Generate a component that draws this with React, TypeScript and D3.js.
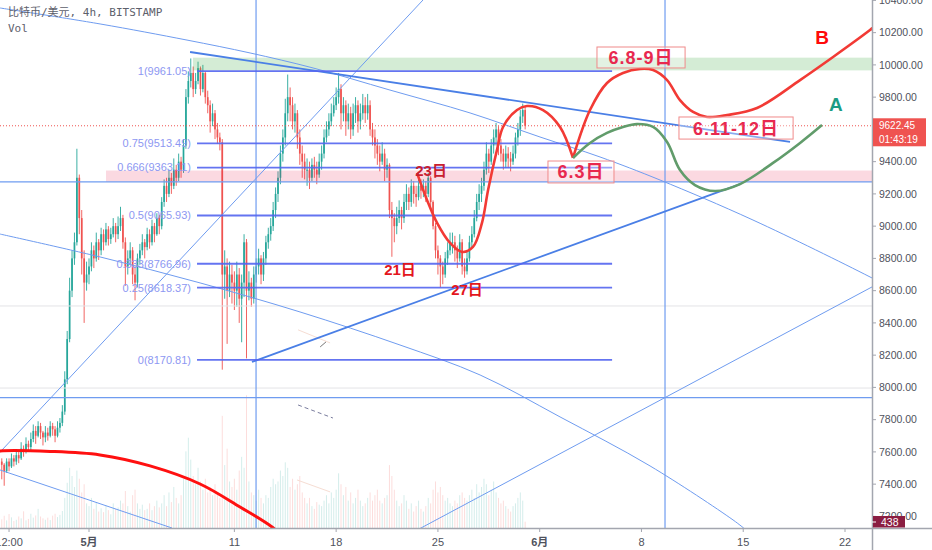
import React from 'react';
import * as d3 from 'd3';

const W = 932;
const H = 550;
const DAY = 86400000;
const H4 = 4 * 3600000;
const START = Date.UTC(2020, 3, 25);
const MAY1 = Date.UTC(2020, 4, 1);

// ---- candles (4h), Apr 25 00:00 .. May 31 00:00 ----
const firstOpen = 7540;
const closes = [
  7520,7480,7540,7510,7560,7540, 7580,7560,7620,7600,7650,7630, 7680,7730,7700,7760,7720,7690,
  7720,7700,7760,7740,7700,7750, 7780,7850,8050,8300,8600,8800, 8900,9300,9050,8800,8650,8700,
  8750,8850,8800,8900,8850,8950, 8900,8980,8920,8950,9000,8950, 9000,9050,8900,8750,8800,8850,
  8700,8650,8800,8850,8900,8870, 8950,8900,9000,8950,9050,9000, 9150,9250,9200,9300,9250,9350,
  9300,9400,9350,9500,9800,9900, 9950,9850,9900,9980,9850,9950, 9800,9750,9650,9700,9600,9550,
  9520,8700,8750,8600,8700,8650, 8600,8700,8550,8650,8900,8600, 8650,8550,8700,8750,8800,8700,
  8800,8900,8950,9000,9100,9200, 9300,9450,9550,9700,9800,9750, 9650,9700,9550,9450,9400,9350,
  9350,9300,9380,9350,9320,9400, 9450,9550,9600,9650,9700,9750, 9800,9850,9700,9750,9650,9700,
  9600,9700,9750,9650,9700,9750, 9700,9750,9600,9550,9500,9450, 9400,9450,9350,9380,9100,9050,
  9000,9050,9100,9050,9150,9200, 9150,9250,9200,9180,9250,9220, 9250,9200,9300,9150,9000,8850,
  8800,8750,8700,8800,8850,8900, 8900,8850,8800,8900,8750,8720, 8800,8900,8950,9050,9150,9200,
  9250,9350,9450,9400,9500,9550, 9600,9500,9450,9400,9450,9420, 9400,9450,9550,9600,9680,9720,
  9622.45,
];
const highs = [
  7560,7530,7560,7560,7590,7580, 7610,7600,7660,7640,7690,7670, 7720,7770,7760,7790,7780,7730,
  7760,7750,7790,7780,7760,7790, 7810,7890,8100,8350,8680,8850, 8960,9480,9320,9100,8850,8780,
  8800,8900,8880,8960,8920,8990, 8980,9020,9000,8990,9050,9020, 9060,9120,9070,8930,8850,8900,
  8870,8750,8830,8890,8950,8920, 8990,8980,9040,9020,9080,9070, 9180,9290,9300,9350,9330,9420,
  9380,9450,9430,9540,9850,9960, 10040,9990,9950,10020,9990,10000, 9960,9840,9780,9760,9720,9640,
  9580,9540,8850,8800,8780,8760, 8720,8780,8740,8700,8950,8920, 8720,8680,8750,8800,8860,8820,
  8840,8940,8990,9050,9150,9240, 9340,9500,9600,9790,9940,9860, 9800,9760,9720,9600,9500,9450,
  9420,9400,9420,9430,9400,9450, 9500,9600,9650,9700,9760,9800, 9860,9950,9880,9800,9780,9760,
  9740,9760,9800,9780,9760,9820, 9800,9820,9780,9640,9600,9540, 9500,9520,9480,9420,9390,9150,
  9080,9120,9160,9120,9200,9260, 9240,9290,9280,9250,9300,9290, 9290,9280,9330,9310,9160,9020,
  8880,8820,8780,8840,8900,8960, 8960,8940,8880,8950,8920,8800, 8850,8940,9000,9100,9200,9260,
  9300,9400,9520,9480,9540,9600, 9640,9620,9540,9480,9500,9490, 9460,9500,9580,9640,9720,9760,
  9740,
];
const lows = [
  7430,7390,7470,7480,7500,7510, 7520,7530,7550,7570,7590,7600, 7610,7660,7650,7690,7680,7640,
  7660,7670,7690,7700,7660,7690, 7720,7760,7830,8020,8280,8560, 8760,8880,8950,8700,8400,8600,
  8640,8720,8740,8780,8790,8820, 8850,8880,8880,8890,8930,8900, 8920,8970,8860,8630,8700,8760,
  8640,8540,8620,8760,8820,8800, 8850,8860,8880,8900,8940,8950, 8980,9120,9150,9180,9200,9230,
  9250,9280,9300,9330,9480,9760, 9860,9800,9820,9880,9810,9830, 9760,9700,9580,9620,9540,9510,
  9470,8110,8550,8270,8560,8520, 8480,8500,8400,8280,8560,8180, 8540,8500,8520,8650,8700,8640,
  8660,8760,8860,8910,8970,9050, 9150,9260,9400,9500,9650,9650, 9600,9580,9480,9380,9300,9290,
  9250,9230,9280,9300,9260,9300, 9350,9420,9520,9560,9620,9680, 9720,9760,9600,9650,9560,9600,
  9540,9560,9640,9580,9600,9660, 9640,9660,9560,9500,9420,9380, 9340,9380,9280,9300,9050,8810,
  8900,8950,9020,8980,9020,9100, 9100,9120,9140,9120,9160,9170, 9180,9150,9180,9100,8980,8800,
  8700,8620,8640,8680,8760,8820, 8830,8780,8740,8780,8700,8680, 8700,8780,8860,8930,9030,9100,
  9150,9220,9320,9330,9380,9450, 9500,9440,9400,9350,9360,9360, 9340,9380,9420,9500,9560,9640,
  9600,
];
const volumes = [
  600,850,530,970,740,490, 570,800,670,1160,530,630, 990,720,870,1330,800,670,
  570,720,550,860,990,760, 910,1180,2090,3140,4180,3610, 2850,3990,3420,2470,3040,1710,
  1520,2090,1330,1800,1140,1370, 1100,1560,1240,950,1710,1330, 1430,1900,1710,2570,1520,1140,
  2280,2660,1710,1330,1620,1240, 1330,1710,1240,1520,1900,1430, 1710,2280,1520,2470,1800,2850,
  2090,1710,2280,3420,5320,6270, 4750,3610,3040,4180,3230,2660, 3420,2470,2850,2280,3040,2470,
  2090,7790,4370,5510,3230,2850, 3420,2660,3990,4940,4180,9220, 3230,2470,2280,1900,2660,2090,
  1710,2280,2090,2850,3420,3040, 3230,3990,3610,4560,4180,2850, 3420,2660,3040,3610,2470,2090,
  1710,2090,1520,1330,1800,1620, 1520,1900,2280,1710,2470,2090, 2660,3800,3040,2280,2850,1900,
  2470,1710,2090,2660,1900,1520, 1710,2090,2470,1900,2280,2660, 1900,1710,2090,2280,4370,3610,
  2660,1900,1520,1710,2280,1900, 1330,1710,1140,1520,1900,1330, 1140,1520,2090,1710,2660,3230,
  2470,2850,2280,1900,2090,1710, 1520,1900,1710,2280,2470,2090, 1900,2280,2660,2090,3040,2470,
  2850,3420,3040,2280,2660,3230, 2470,2090,1710,1900,1520,1330, 1140,1520,1710,2090,2470,1900,
  438,
];
const lastPrice = 9622.45;
const countdown = '01:43:19';
const lastVolumeLabel = '438';

// ---- axes ----
const priceTicks = [7200, 7400, 7600, 7800, 8000, 8200, 8400, 8600, 8800, 9000, 9200, 9400, 9600, 9800, 10000, 10200, 10400];
const timeTickDays = [-5.5, 0, 10, 17, 24, 31, 38, 45, 52];
const timeTickLabels = ['12:00', '5月', '11', '18', '25', '6月', '8', '15', '22'];
const timeTickBold = [false, true, false, false, false, true, false, false, false];

// ---- fibonacci retracement ----
const fibLow = 8170.81;
const fibHigh = 9961.05;
const fibLevels = [1, 0.75, 0.666, 0.5, 0.333, 0.25, 0];
const fibDays: [number, number] = [7.43, 35.98];

// ---- drawings: [day offset from May 1, price] ----
const arcTopBlue: [number, number][] = [[-6.12,10353],[0.76,10254],[6.74,10154],[11.08,10074],[15.41,9981],[20.70,9844],[26.21,9702],[31.02,9553],[35.15,9429],[39.28,9286],[45.67,9038],[53.72,8685],[55.79,8585]];
const arcLowBlue: [number, number][] = [[-6.12,8951],[0.76,8809],[7.64,8648],[14.51,8468],[21.39,8263],[26.90,8077],[32.40,7817],[38.59,7513],[44.30,7178],[45.19,7116]];
const arcRedBottom: [number, number][] = [[-6.81,7596],[-6.12,7606],[-2.68,7603],[0.76,7581],[4.20,7513],[7.64,7401],[10.39,7258],[12.59,7134],[13.83,7035]];
const lineSmallBlue: [number, number][] = [[-6.12,7488],[5.71,7128]];
const lineSteep: [number, number][] = [[-6.5,7562],[23.3,10434]];
const lineRise: [number, number][] = [[22.5,7112],[53.9,8625]];
const trendTop: [number, number][] = [[6.95,10080],[48.22,9522]];
const trendSupport: [number, number][] = [[11.21,8158],[44.78,9261]];
const verticalDays = [11.49, 39.62];
const horizontalBlue = [9274, 7937];
const horizontalGray = [8505, 7996];
const greenZone = { startDay: 7.15, top: 10045, bottom: 9966 };
const pinkZone = { startDay: 1.17, top: 9345, bottom: 9274 };
const dashSmall: [number, number][] = [[14.38,7891],[16.78,7810]];
const tickMark: [number, number][] = [[15.9,8251],[16.3,8282]];
const faintLine1: [number, number][] = [[14.31,7426],[16.58,7352]];
const faintLine2: [number, number][] = [[14.38,8357],[16.58,8276]];

const forecastOval: [number, number][] = [[22.56,9330],[23.25,9162],[23.94,9020],[24.83,8896],[25.66,8840],[26.41,8871],[27.03,9020],[27.45,9224],[28.06,9472],[28.48,9615],[29.44,9720],[30.13,9745],[31.23,9720],[32.40,9615],[33.29,9423]];
const forecastB: [number, number][] = [[33.29,9423],[34.46,9720],[35.63,9888],[36.73,9950],[37.90,9975],[38.80,9968],[39.76,9906],[40.65,9782],[41.55,9708],[42.51,9677],[43.89,9689],[45.95,9733],[48.91,9906],[51.18,10049],[53.72,10216],[54.75,10291]];
const forecastA: [number, number][] = [[33.29,9423],[34.46,9516],[35.63,9578],[36.73,9615],[37.69,9633],[38.80,9615],[39.76,9522],[40.65,9348],[41.68,9255],[43.06,9218],[44.78,9261],[47.05,9392],[48.91,9516],[50.42,9627]];

const dayNotes = [
  { text: '23日', d: 23.53, p: 9342 },
  { text: '21日', d: 21.39, p: 8728 },
  { text: '27日', d: 26.0, p: 8604 },
];
const boxNotes = [
  { text: '6.8-9日', d0: 34.94, d1: 41.0, p0: 10111, p1: 9981 },
  { text: '6.11-12日', d0: 40.58, d1: 48.43, p0: 9677, p1: 9540 },
  { text: '6.3日', d0: 31.57, d1: 36.11, p0: 9404, p1: 9268 },
];
const letterNotes = [
  { text: 'B', d: 50.42, p: 10173 },
  { text: 'A', d: 51.38, p: 9757 },
];

const UP = '#26a69a';
const DOWN = '#ef5350';
const AXIS_FONT = '"Liberation Sans", Arial, "Noto Sans CJK SC", sans-serif';

export default function App() {
  const x = d3.scaleUtc().domain([new Date(MAY1), new Date(MAY1 + 52 * DAY)]).range([89, 845]);
  const dx = (d: number) => x(new Date(MAY1 + d * DAY));
  const y = d3.scaleLinear().domain([7200, 10400]).range([516.4, 0.4]);
  const yv = d3.scaleLinear().domain([0, 10000]).range([528, 384]);
  const PR = 872;
  const PB = 528;

  const straight = d3.line<[number, number]>().x(p => dx(p[0])).y(p => y(p[1]));
  const smooth = d3.line<[number, number]>().x(p => dx(p[0])).y(p => y(p[1])).curve(d3.curveCatmullRom.alpha(0.5));

  const candles = closes.map((c, i) => ({
    t: START + i * H4,
    o: i === 0 ? firstOpen : closes[i - 1],
    h: highs[i],
    l: lows[i],
    c,
    v: volumes[i],
  }));

  const fib = fibLevels.map(l => ({ l, p: fibLow + l * (fibHigh - fibLow) }));
  const lpY = y(lastPrice);
  const visibleTicks = priceTicks.filter(p => Math.abs(y(p) - (lpY + 6.5)) > 19);

  return (
    <svg width={W} height={H} style={{ position: 'absolute', left: 0, top: 0, background: '#fff' }}>
      <defs>
        <clipPath id="pane"><rect x={0} y={0} width={PR} height={PB} /></clipPath>
      </defs>
      <rect x={0} y={0} width={W} height={H} fill="#fff" />
      <g clipPath="url(#pane)">
        {candles.map((k, i) => (
          <rect key={'v' + i} x={x(new Date(k.t)) - 0.5} width={1} y={yv(k.v)} height={PB - yv(k.v)}
            fill={k.c >= k.o ? UP : DOWN} opacity={0.2} />
        ))}
        {candles.map((k, i) => {
          const cx = x(new Date(k.t));
          const col = k.c >= k.o ? UP : DOWN;
          const top = y(Math.max(k.o, k.c));
          const bh = Math.max(1, y(Math.min(k.o, k.c)) - top);
          return (
            <g key={'c' + i}>
              <line x1={cx} x2={cx} y1={y(k.h)} y2={y(k.l)} stroke={col} strokeWidth={0.9} />
              <rect x={cx - 0.85} width={1.7} y={top} height={bh} fill={col} />
            </g>
          );
        })}
        <rect x={dx(greenZone.startDay)} width={PR - dx(greenZone.startDay)} y={y(greenZone.top)}
          height={y(greenZone.bottom) - y(greenZone.top)} fill="rgba(76,175,80,0.24)" />
        <rect x={dx(pinkZone.startDay)} width={PR - dx(pinkZone.startDay)} y={y(pinkZone.top)}
          height={y(pinkZone.bottom) - y(pinkZone.top)} fill="rgba(233,30,80,0.17)" />
        {horizontalGray.map((p, i) => (
          <line key={'hg' + i} x1={0} x2={PR} y1={y(p)} y2={y(p)} stroke="#e3e3e6" strokeWidth={1} />
        ))}
        {horizontalBlue.map((p, i) => (
          <line key={'hb' + i} x1={0} x2={PR} y1={y(p)} y2={y(p)} stroke="#6f9cf0" strokeWidth={1.2} />
        ))}
        {verticalDays.map((d, i) => (
          <line key={'vl' + i} x1={dx(d)} x2={dx(d)} y1={0} y2={PB} stroke="#6f9cf0" strokeWidth={1.2} />
        ))}
        <line x1={0} x2={PR} y1={lpY} y2={lpY} stroke={DOWN} strokeWidth={1} strokeDasharray="1,2" />
        <path d={smooth(arcTopBlue) || ''} fill="none" stroke="#6f9cf0" strokeWidth={1} />
        <path d={smooth(arcLowBlue) || ''} fill="none" stroke="#6f9cf0" strokeWidth={1} />
        <path d={straight(lineSmallBlue) || ''} fill="none" stroke="#6f9cf0" strokeWidth={1} />
        <path d={straight(lineSteep) || ''} fill="none" stroke="#6f9cf0" strokeWidth={1} />
        <path d={straight(lineRise) || ''} fill="none" stroke="#6f9cf0" strokeWidth={1} />
        <path d={straight(faintLine1) || ''} fill="none" stroke="#f6ddd3" strokeWidth={1} />
        <path d={straight(faintLine2) || ''} fill="none" stroke="#f6ddd3" strokeWidth={1} />
        <path d={straight(dashSmall) || ''} fill="none" stroke="#7a7d9e" strokeWidth={1} strokeDasharray="4,3" />
        <path d={straight(tickMark) || ''} fill="none" stroke="#777" strokeWidth={1} />
        <path d={straight(trendTop) || ''} fill="none" stroke="#4a7fe6" strokeWidth={1.8} />
        <path d={straight(trendSupport) || ''} fill="none" stroke="#4a7fe6" strokeWidth={1.8} />
        {fib.map((f, i) => (
          <g key={'f' + i}>
            <line x1={dx(fibDays[0])} x2={dx(fibDays[1])} y1={y(f.p)} y2={y(f.p)} stroke="#5466f0" strokeWidth={1.8} opacity={0.9} />
            <text x={dx(fibDays[0]) - 6} y={y(f.p)} dy="0.35em" textAnchor="end" fontFamily={AXIS_FONT}
              fontSize={11} fill="#8d97f2">{`${f.l}(${f.p.toFixed(2)})`}</text>
          </g>
        ))}
        <path d={smooth(arcRedBottom) || ''} fill="none" stroke="#ff1010" strokeWidth={3} />
        <path d={smooth(forecastOval) || ''} fill="none" stroke="#f23a35" strokeWidth={2.6} />
        <path d={smooth(forecastB) || ''} fill="none" stroke="#f23a35" strokeWidth={2.6} />
        <path d={smooth(forecastA) || ''} fill="none" stroke="#619c6b" strokeWidth={2.6} />
        {dayNotes.map((n, i) => (
          <text key={'dn' + i} x={dx(n.d)} y={y(n.p)} dy="0.36em" textAnchor="middle" fontFamily={AXIS_FONT}
            fontWeight="bold" fontSize={15} fill={i === 0 ? '#c8202f' : '#e3161d'}>{n.text}</text>
        ))}
        {boxNotes.map((n, i) => (
          <g key={'bn' + i}>
            <rect x={dx(n.d0)} y={y(n.p0)} width={dx(n.d1) - dx(n.d0)} height={y(n.p1) - y(n.p0)}
              fill="rgba(255,255,255,0.35)" stroke="#f08a8a" strokeWidth={1} />
            <text x={(dx(n.d0) + dx(n.d1)) / 2} y={(y(n.p0) + y(n.p1)) / 2} dy="0.36em" textAnchor="middle"
              fontFamily={AXIS_FONT} fontWeight="bold" fontSize={18} letterSpacing={1} fill="#e8294f">{n.text}</text>
          </g>
        ))}
        {letterNotes.map((n, i) => (
          <text key={'ln' + i} x={dx(n.d)} y={y(n.p)} dy="0.36em" textAnchor="middle" fontFamily={AXIS_FONT}
            fontWeight="bold" fontSize={19} fill={i === 0 ? '#ff0a0a' : '#1c9c84'}>{n.text}</text>
        ))}
      </g>

      <text x={8} y={12} dy="0.35em" fontFamily='"DejaVu Sans Mono", "Noto Sans CJK SC", monospace' fontSize={11} fill="#5d606b">比特币/美元, 4h, BITSTAMP</text>
      <text x={8} y={28} dy="0.35em" fontFamily='"DejaVu Sans Mono", monospace' fontSize={11} fill="#5d606b">Vol</text>

      <line x1={0} x2={W} y1={PB + 0.5} y2={PB + 0.5} stroke="#a3a6af" strokeWidth={1.5} />
      <line x1={PR + 0.5} x2={PR + 0.5} y1={0} y2={H} stroke="#a3a6af" strokeWidth={1.5} />
      {priceTicks.map((p, i) => (
        <line key={'ptl' + i} x1={PR} x2={PR + 4} y1={y(p)} y2={y(p)} stroke="#a3a6af" />
      ))}
      {visibleTicks.map((p, i) => (
        <text key={'pt' + i} x={PR + 7} y={y(p)} dy="0.35em" fontFamily={AXIS_FONT} fontSize={10.5} fill="#4f525c">{p.toFixed(2)}</text>
      ))}
      {timeTickDays.map((d, i) => (
        <g key={'tt' + i}>
          <line x1={dx(d)} x2={dx(d)} y1={PB} y2={PB + 4} stroke="#a3a6af" />
          <text x={dx(d)} y={PB + 14} dy="0.35em" textAnchor="middle" fontFamily={AXIS_FONT} fontSize={11}
            fontWeight={timeTickBold[i] ? 'bold' : 'normal'} fill="#4f525c">{timeTickLabels[i]}</text>
        </g>
      ))}
      <rect x={PR + 1} y={lpY - 7.5} width={53} height={28} fill="#ef5350" />
      <text x={PR + 7} y={lpY} dy="0.35em" fontFamily={AXIS_FONT} fontSize={10} fill="#fff">{lastPrice.toFixed(2)}</text>
      <text x={PR + 7} y={lpY + 14} dy="0.35em" fontFamily={AXIS_FONT} fontSize={10} fill="#fff">{countdown}</text>
      <rect x={PR + 1} y={PB - 12} width={32} height={11.5} fill="#8b1e42" />
      <line x1={PR} x2={PR + 4} y1={PB - 6} y2={PB - 6} stroke="#fff" />
      <text x={PR + 9} y={PB - 6} dy="0.35em" fontFamily={AXIS_FONT} fontSize={10.5} fill="#fff">{lastVolumeLabel}</text>
    </svg>
  );
}
